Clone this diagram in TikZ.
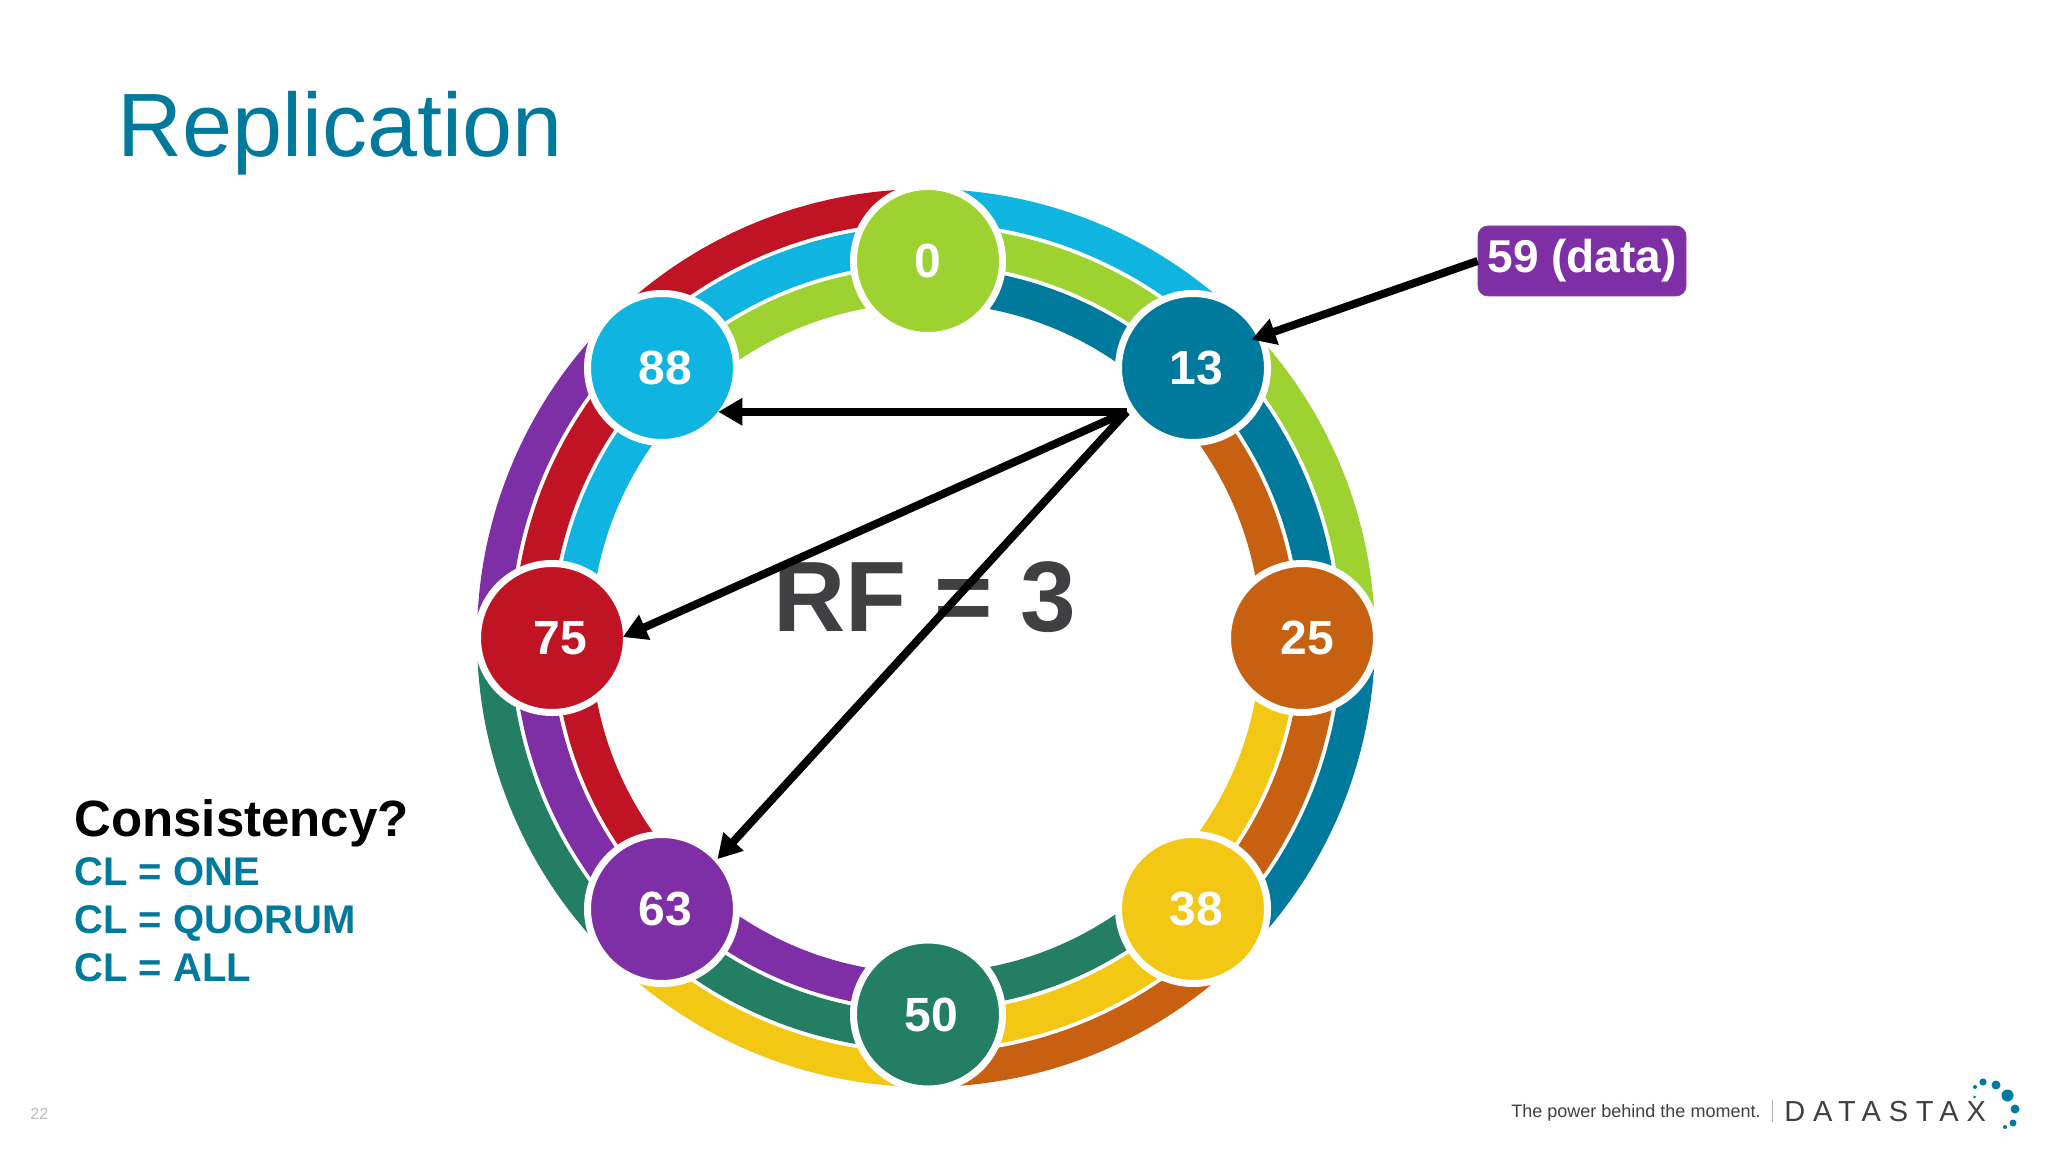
\documentclass[tikz,border=0pt]{standalone}
\usepackage{fontspec}
\setmainfont{Liberation Sans}
\newfontfamily\logofont[LetterSpace=27]{Liberation Sans}
\usepackage{xcolor}
\usetikzlibrary{arrows.meta,positioning}
\definecolor{RingLime}{HTML}{9DD230}
\definecolor{RingSky}{HTML}{0FB4E0}
\definecolor{RingTeal}{HTML}{007A9C}
\definecolor{RingRust}{HTML}{C86012}
\definecolor{RingGold}{HTML}{F3C815}
\definecolor{RingPine}{HTML}{237E64}
\definecolor{RingPlum}{HTML}{7E2FA5}
\definecolor{RingRed}{HTML}{C01425}
\definecolor{SlideInk}{HTML}{404042}

\begin{document}
\begin{tikzpicture}[
  x=0.5pt,y=0.5pt,
  band/.style={line cap=butt},
  token/.style={circle,draw=white,line width=3.5pt,outer sep=0pt,minimum size=74.5pt,inner sep=0pt,text=white,font=\bfseries\fontsize{24}{24}\selectfont},
  replica/.style={-{Triangle[length=12pt,width=13pt]},line width=4pt,black,shorten >=-2pt},
  cltext/.style={inner sep=0pt,text=RingTeal,text height=16pt,text depth=7.75pt,font=\bfseries\fontsize{20}{20}\selectfont}
]
  \useasboundingbox (0,0) rectangle (2048,1152);
  \fill[white] (0,0) rectangle (2048,1152);

  \node[anchor=base west,inner sep=0pt,text=RingTeal,font=\fontsize{45}{45}\selectfont] (title) at (117,995) {Replication};

  \foreach \a/\b/\co/\cm/\ci in {
    0/45/RingLime/RingTeal/RingRust,
    45/90/RingSky/RingLime/RingTeal,
    90/135/RingRed/RingSky/RingLime,
    135/180/RingPlum/RingRed/RingSky,
    180/225/RingPine/RingPlum/RingRed,
    225/270/RingGold/RingPine/RingPlum,
    270/315/RingRust/RingGold/RingPine,
    315/360/RingTeal/RingRust/RingGold}{
    \draw[band,\co,line width=16.5pt] (926,514) ++(\a:432.5) arc[start angle=\a,end angle=\b,radius=432.5];
    \draw[band,\cm,line width=18.5pt] (926,514) ++(\a:393.5) arc[start angle=\a,end angle=\b,radius=393.5];
    \draw[band,\ci,line width=18pt] (926,514) ++(\a:353) arc[start angle=\a,end angle=\b,radius=353];
  }

  \node[token,fill=RingLime] (n0) at (928,891) {0};
  \node[token,fill=RingTeal] (n13) at (1193,784) {\kern3pt 13};
  \node[token,fill=RingRust] (n25) at (1302,514) {\kern5pt 25};
  \node[token,fill=RingGold] (n38) at (1193,243) {\kern3pt 38};
  \node[token,fill=RingPine] (n50) at (928,137.5) {\kern3pt 50};
  \node[token,fill=RingPlum] (n63) at (662,243) {\kern3pt 63};
  \node[token,fill=RingRed] (n75) at (552,514) {\kern8pt 75};
  \node[token,fill=RingSky] (n88) at (662,784) {\kern3pt 88};

  \node[anchor=base,inner sep=0pt,text=SlideInk,font=\bfseries\fontsize{50}{50}\selectfont] (rf) at (925,520) {RF = 3};

  \node[draw=RingPlum!70!gray,thin,fill=RingPlum,rounded corners=5pt,minimum width=104pt,minimum height=35pt,inner sep=0pt,text=white,font=\bfseries\fontsize{23}{23}\selectfont] (data) at (1582,891) {59 (data)};

  \coordinate[xshift=-3pt] (fan) at (n13.216);
  \draw[replica,shorten >=-4.75pt] (data.west) -- (n13.25);
  \draw[replica] (fan) -- (n88.-36);
  \draw[replica] (fan) -- (n75.2);
  \draw[replica,shorten >=0pt] (fan) -- (n63.42);

  \node[anchor=base west,inner sep=0pt,font=\bfseries\fontsize{25.5}{25.5}\selectfont] (cons) at (74,316) {Consistency?};
  \node[cltext,anchor=base west] (clone) at (74,267) {CL = ONE};
  \node[cltext,below=0pt of clone.south west,anchor=north west] (clquorum) {CL = QUORUM};
  \node[cltext,below=0pt of clquorum.south west,anchor=north west] (clall) {CL = ALL};

  \node[anchor=base west,inner sep=0pt,text=black!25,font=\fontsize{8}{8}\selectfont] (page) at (30,33) {22};
  \node[anchor=base west,inner sep=0pt,text=SlideInk,font=\fontsize{9}{9}\selectfont] (motto) at (1511,35) {The power behind the moment.};
  \node[anchor=base west,inner sep=0pt,text=SlideInk,font=\logofont\fontsize{14.5}{14.5}\selectfont] (logo) at (1784,31) {DATASTAX};
  \draw[black!30,line width=0.5pt] (1772,30) -- (1772,52);
  \foreach \dx/\dy/\dr in {1983/70/3.6,1996/67/4.5,2007.5/56.5/6,2015/43/4.5,2013/29/3.5,2005/25/2,1975/65/2,1974.5/55/1.5}{
    \fill[RingTeal] (\dx,\dy) circle[radius=\dr];
  }
\end{tikzpicture}
\end{document}
